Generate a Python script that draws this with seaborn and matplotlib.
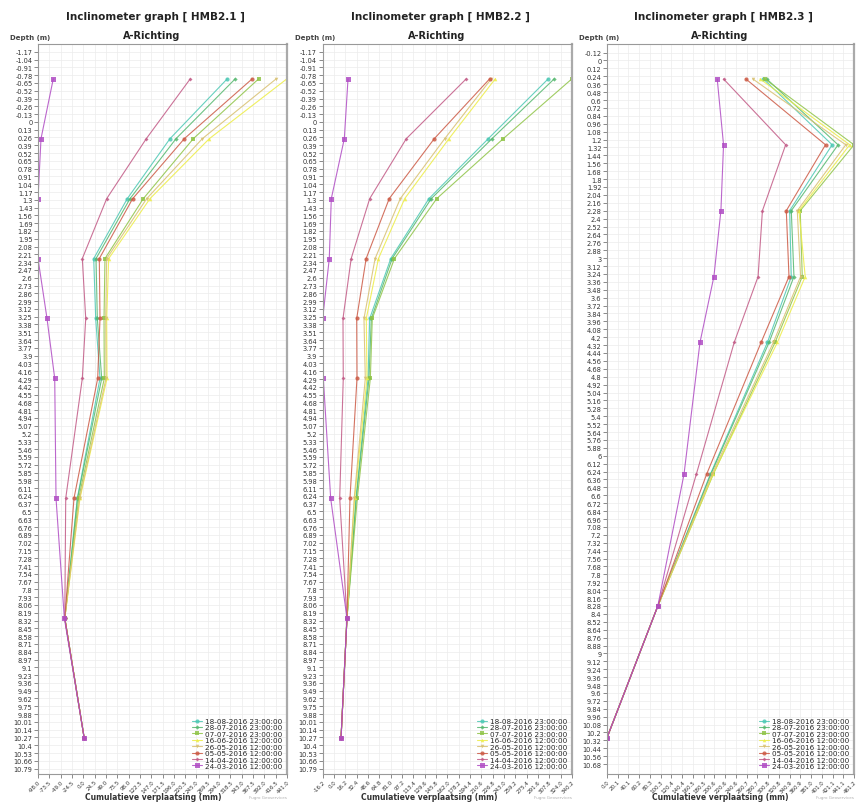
import numpy as np
import matplotlib
matplotlib.use("Agg")
import matplotlib.pyplot as plt
import seaborn as sns

sns.set_theme(style="white")
plt.rcParams["font.family"] = ["DejaVu Sans"]

# --- legenda (meetdata) ---
dates = ["18-08-2016 23:00:00", "28-07-2016 23:00:00", "07-07-2016 23:00:00",
         "16-06-2016 12:00:00", "26-05-2016 12:00:00", "05-05-2016 12:00:00",
         "14-04-2016 12:00:00", "24-03-2016 12:00:00"]
colors = ["#4cc8b4", "#55b86e", "#8fc447", "#eded45", "#d8c070", "#cc5a45", "#c25a86", "#b04cc4"]
markers = ["o", "D", "s", "^", "v", "o", "D", "s"]
msizes = [3.0, 2.2, 3.0, 2.6, 2.6, 3.0, 2.0, 3.6]

# --- diepte (m) ---
depth_21 = [-0.72, 0.28, 1.28, 2.28, 3.28, 4.28, 6.28, 8.28, 10.28]
depth_22 = [-0.72, 0.28, 1.28, 2.28, 3.28, 4.28, 6.28, 8.28, 10.28]
depth_23 = [0.28, 1.28, 2.28, 3.28, 4.28, 6.28, 8.28, 10.28]

# --- HMB2.1 cumulatieve verplaatsing (mm) ---
hmb21_1808 = [311.8, 187.7, 95.3, 22.6, 26.9, 36.2, -12.9, -40.0, 2.0]
hmb21_2807 = [329.1, 200.7, 101.2, 27.6, 30.4, 39.9, -12.3, -40.0, 2.0]
hmb21_0707 = [379.8, 238.2, 130.0, 47.0, 44.9, 45.5, -9.9, -40.0, 2.0]
hmb21_1606 = [441.0, 272.8, 144.4, 55.0, 50.7, 51.4, -7.1, -40.0, 2.0]
hmb21_2605 = [417.8, 257.7, 137.3, 50.7, 48.5, 49.2, -8.0, -40.0, 2.0]
hmb21_0505 = [365.9, 218.7, 107.0, 34.7, 36.2, 31.2, -20.1, -40.0, 2.0]
hmb21_1404 = [231.7, 136.4, 50.7, -2.1, 5.3, -2.1, -38.0, -40.0, 2.0]
hmb21_2403 = [-64.9, -91.5, -98.0, -98.0, -78.5, -61.8, -59.0, -41.0, 2.0]

# --- HMB2.2 ---
hmb22_1808 = [306.3, 220.5, 135.7, 81.1, 51.0, 48.6, 31.4, 18.5, 10.0]
hmb22_2807 = [314.9, 225.8, 139.0, 83.1, 53.3, 50.0, 31.8, 18.5, 10.0]
hmb22_0707 = [340.2, 241.9, 146.8, 86.4, 54.7, 51.9, 33.3, 18.5, 10.0]
hmb22_1606 = [230.6, 164.3, 101.0, 63.5, 46.1, 47.1, 29.5, 18.5, 10.0]
hmb22_2605 = [224.9, 158.2, 94.7, 58.7, 42.8, 44.7, 28.8, 18.5, 10.0]
hmb22_0505 = [222.6, 143.3, 78.9, 45.9, 32.4, 32.8, 22.8, 18.5, 10.0]
hmb22_1404 = [189.1, 103.3, 51.0, 24.5, 12.8, 13.2, 8.1, 18.5, 10.0]
hmb22_2403 = [20.0, 14.7, -3.9, -6.8, -16.2, -15.3, -4.8, 18.5, 10.0]

# --- HMB2.3 ---
hmb23_1808 = [292.0, 420.4, 341.0, 344.1, 299.5, 193.0, 94.9, 0.0]
hmb23_2807 = [298.2, 431.5, 344.1, 349.1, 302.6, 194.0, 94.9, 0.0]
hmb23_0707 = [294.5, 461.2, 360.8, 364.6, 313.8, 198.5, 94.9, 0.0]
hmb23_1606 = [285.8, 453.2, 358.4, 370.1, 318.1, 198.0, 94.9, 0.0]
hmb23_2605 = [272.2, 445.8, 355.3, 361.4, 310.6, 196.0, 94.9, 0.0]
hmb23_0505 = [259.2, 408.0, 334.8, 339.8, 287.7, 186.0, 94.9, 0.0]
hmb23_1404 = [217.6, 333.6, 290.2, 282.1, 237.5, 166.8, 94.9, 0.0]
hmb23_2403 = [205.8, 217.6, 212.7, 199.6, 173.6, 143.8, 94.9, 0.0]

# --- as-labels ---
xticks_21 = [-98.0, -73.5, -49.0, -24.5, 0.0, 24.5, 49.0, 73.5, 98.0, 122.5, 147.0, 171.5,
             196.0, 220.5, 245.0, 269.5, 294.0, 318.5, 343.0, 367.5, 392.0, 416.5, 441.0]
xticks_22 = [-16.2, 0.0, 16.2, 32.4, 48.6, 64.8, 81.0, 97.2, 113.4, 129.6, 145.8, 162.0,
             178.2, 194.4, 210.6, 226.8, 243.0, 259.2, 275.4, 291.6, 307.8, 324.0, 340.2]
xticks_23 = [0.0, 20.1, 40.1, 60.2, 80.3, 100.3, 120.4, 140.4, 160.5, 180.5, 200.6, 220.6,
             240.6, 260.7, 280.7, 300.8, 320.8, 340.9, 360.9, 381.0, 401.0, 421.1, 441.1, 461.2]
yticks_21 = np.round(np.arange(-1.17, 10.80, 0.13), 2)
yticks_23 = np.round(np.arange(-0.12, 10.69, 0.12), 2)

panels = [
    ("HMB2.1", depth_21, [hmb21_1808, hmb21_2807, hmb21_0707, hmb21_1606, hmb21_2605, hmb21_0505, hmb21_1404, hmb21_2403],
     xticks_21, (-98.0, 441.0), yticks_21, (10.88, -1.30), 38.0, 249.0, 153),
    ("HMB2.2", depth_22, [hmb22_1808, hmb22_2807, hmb22_0707, hmb22_1606, hmb22_2605, hmb22_0505, hmb22_1404, hmb22_2403],
     xticks_22, (-16.2, 340.2), yticks_21, (10.88, -1.30), 322.7, 249.3, 429),
    ("HMB2.3", depth_23, [hmb23_1808, hmb23_2807, hmb23_0707, hmb23_1606, hmb23_2605, hmb23_0505, hmb23_1404, hmb23_2403],
     xticks_23, (0.0, 461.2), yticks_23, (10.83, -0.25), 607.0, 247.0, 720),
]


def fmt(v):
    s = f"{v:.2f}".rstrip("0").rstrip(".")
    return "0" if s in ("-0", "") else s


W, H = 857, 803
fig = plt.figure(figsize=(W / 100, H / 100), dpi=100)

for name, depths, series, xt, xl, yt, yl, left, width, xlab_c in panels:
    ax = fig.add_axes([left / W, 1 - 775 / H, width / W, 730 / H])
    for vals, date, c, m, ms in zip(series, dates, colors, markers, msizes):
        sns.lineplot(x=vals, y=depths, ax=ax, orient="y", sort=False, estimator=None,
                     color=c, marker=m, markersize=ms, markeredgewidth=0,
                     linewidth=0.8, alpha=0.85, label=date, legend=False)

    ax.set_xlim(*xl)
    ax.set_ylim(*yl)
    ax.set_xticks(xt)
    ax.set_xticklabels([f"{v:.1f}" for v in xt])
    ax.set_yticks(yt)
    ax.set_yticklabels([fmt(v) for v in yt])
    ax.set_xlabel("")
    ax.set_ylabel("")
    for lbl in ax.get_yticklabels():
        if lbl.get_text() == "0":
            lbl.set_color("#e0603a")
    ax.tick_params(axis="both", which="major", length=3, width=0.6, color="#777777",
                   pad=1, labelcolor="#333333", left=True, bottom=True)
    ax.tick_params(axis="y", labelsize=4.8)
    ax.tick_params(axis="x", labelsize=4.0, pad=0.5)
    plt.setp(ax.get_xticklabels(), rotation=45, ha="right", rotation_mode="anchor")
    ax.grid(True, color="#ececec", linewidth=0.5)
    for sp in ax.spines.values():
        sp.set_color("#999999")
        sp.set_linewidth(0.8)
    ax.spines["right"].set_linewidth(1.6)
    ax.spines["right"].set_color("#aaaaaa")

    ax.legend(loc="lower right", frameon=False, fontsize=5.2, handlelength=1.3,
              handletextpad=0.4, labelspacing=0.05, borderaxespad=0.5, borderpad=0.2)

    cx = (left + width / 2) / W
    fig.text(cx - 7 / W, 1 - 17 / H, f"Inclinometer graph [ {name} ]", ha="center", va="center",
             fontsize=7.5, fontweight="bold", color="#222222")
    fig.text(cx - 11 / W, 1 - 36 / H, "A-Richting", ha="center", va="center",
             fontsize=7, fontweight="bold", color="#222222")
    fig.text((left - 28) / W, 1 - 38 / H, "Depth (m)", ha="left", va="center",
             fontsize=5, fontweight="bold", color="#444444")
    fig.text(xlab_c / W, 1 - 798 / H, "Cumulatieve verplaatsing (mm)", ha="center", va="center",
             fontsize=5.5, fontweight="bold", color="#333333")
    fig.text((left + width) / W, 1 - 798 / H, "Fugro Geoservices", ha="right", va="center",
             fontsize=3, color="#b0b0b0")

fig.savefig("out.png", dpi=100)
